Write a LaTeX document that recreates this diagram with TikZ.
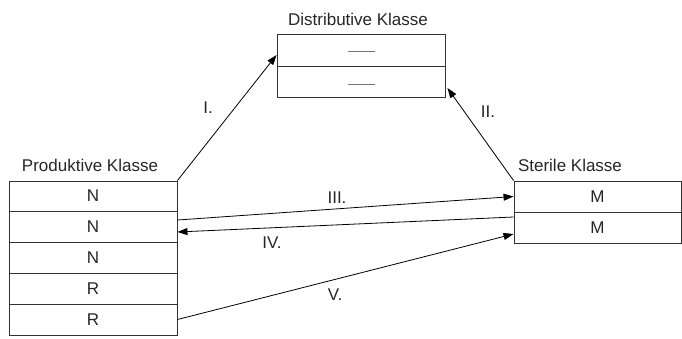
\documentclass[tikz,border=0pt]{standalone}
\usepackage{fontspec}
\setmainfont{Liberation Sans}
\usetikzlibrary{arrows.meta}
\begin{document}
\begin{tikzpicture}[x=1pt,y=-1pt,
  every node/.style={font=\fontsize{17}{20}\selectfont, text=black!85},
  cell/.style={draw=black!80, line width=0.9pt, minimum width=168pt, inner sep=0pt, anchor=center},
  lbl/.style={inner sep=0pt},
  blank/.style={draw=black!55, line width=1pt},
  arr/.style={draw=black, line width=0.8pt, -{Triangle[length=10pt,width=7pt]}}]
\useasboundingbox (0,0) rectangle (682,338);
% Distributive class
\node[lbl] (Dt) at (358,19) {Distributive Klasse};
\node[cell, minimum height=32pt] (D1) at (361,50) {};
\node[cell, minimum height=31pt] (D2) at (361,81.5) {};
\draw[blank] ([xshift=-13.5pt,yshift=-1pt]D1.center) -- ++(27,0);
\draw[blank] ([xshift=-13.5pt,yshift=-2.5pt]D2.center) -- ++(27,0);
% Productive class
\node[lbl] (Pt) at (90,165) {Produktive Klasse};
\node[cell, minimum height=30pt] (P1) at (93,196) {N};
\node[cell, minimum height=31pt] (P2) at (93,226.5) {N};
\node[cell, minimum height=31pt] (P3) at (93,257.5) {N};
\node[cell, minimum height=31pt] (P4) at (93,288.5) {R};
\node[cell, minimum height=31pt] (P5) at (93,319.5) {R};
% Sterile class
\node[lbl] (St) at (570,165) {Sterile Klasse};
\node[cell, minimum width=167pt, minimum height=31pt] (S1) at (597.5,196.5) {M};
\node[cell, minimum width=167pt, minimum height=31pt] (S2) at (597.5,227.5) {M};
% Arrows
\draw[arr] (P1.north east) -- ([yshift=-5pt]D1.west);
\draw[arr] (S1.north west) -- ([xshift=2pt,yshift=-6.5pt]D2.east);
\draw[arr] ([yshift=6.5pt]P2.east) -- (S1.west);
\draw[arr] ([yshift=10.5pt]S2.west) -- ([yshift=-5.5pt]P2.east);
\draw[arr] (P5.east) -- ([yshift=-6.5pt]S2.west);
% Labels
\node[lbl] (l1) at (208,108) {I.};
\node[lbl] (l2) at (488,112) {II.};
\node[lbl] (l3) at (337,198) {III.};
\node[lbl] (l4) at (272,243) {IV.};
\node[lbl] (l5) at (335,295) {V.};
\end{tikzpicture}
\end{document}
